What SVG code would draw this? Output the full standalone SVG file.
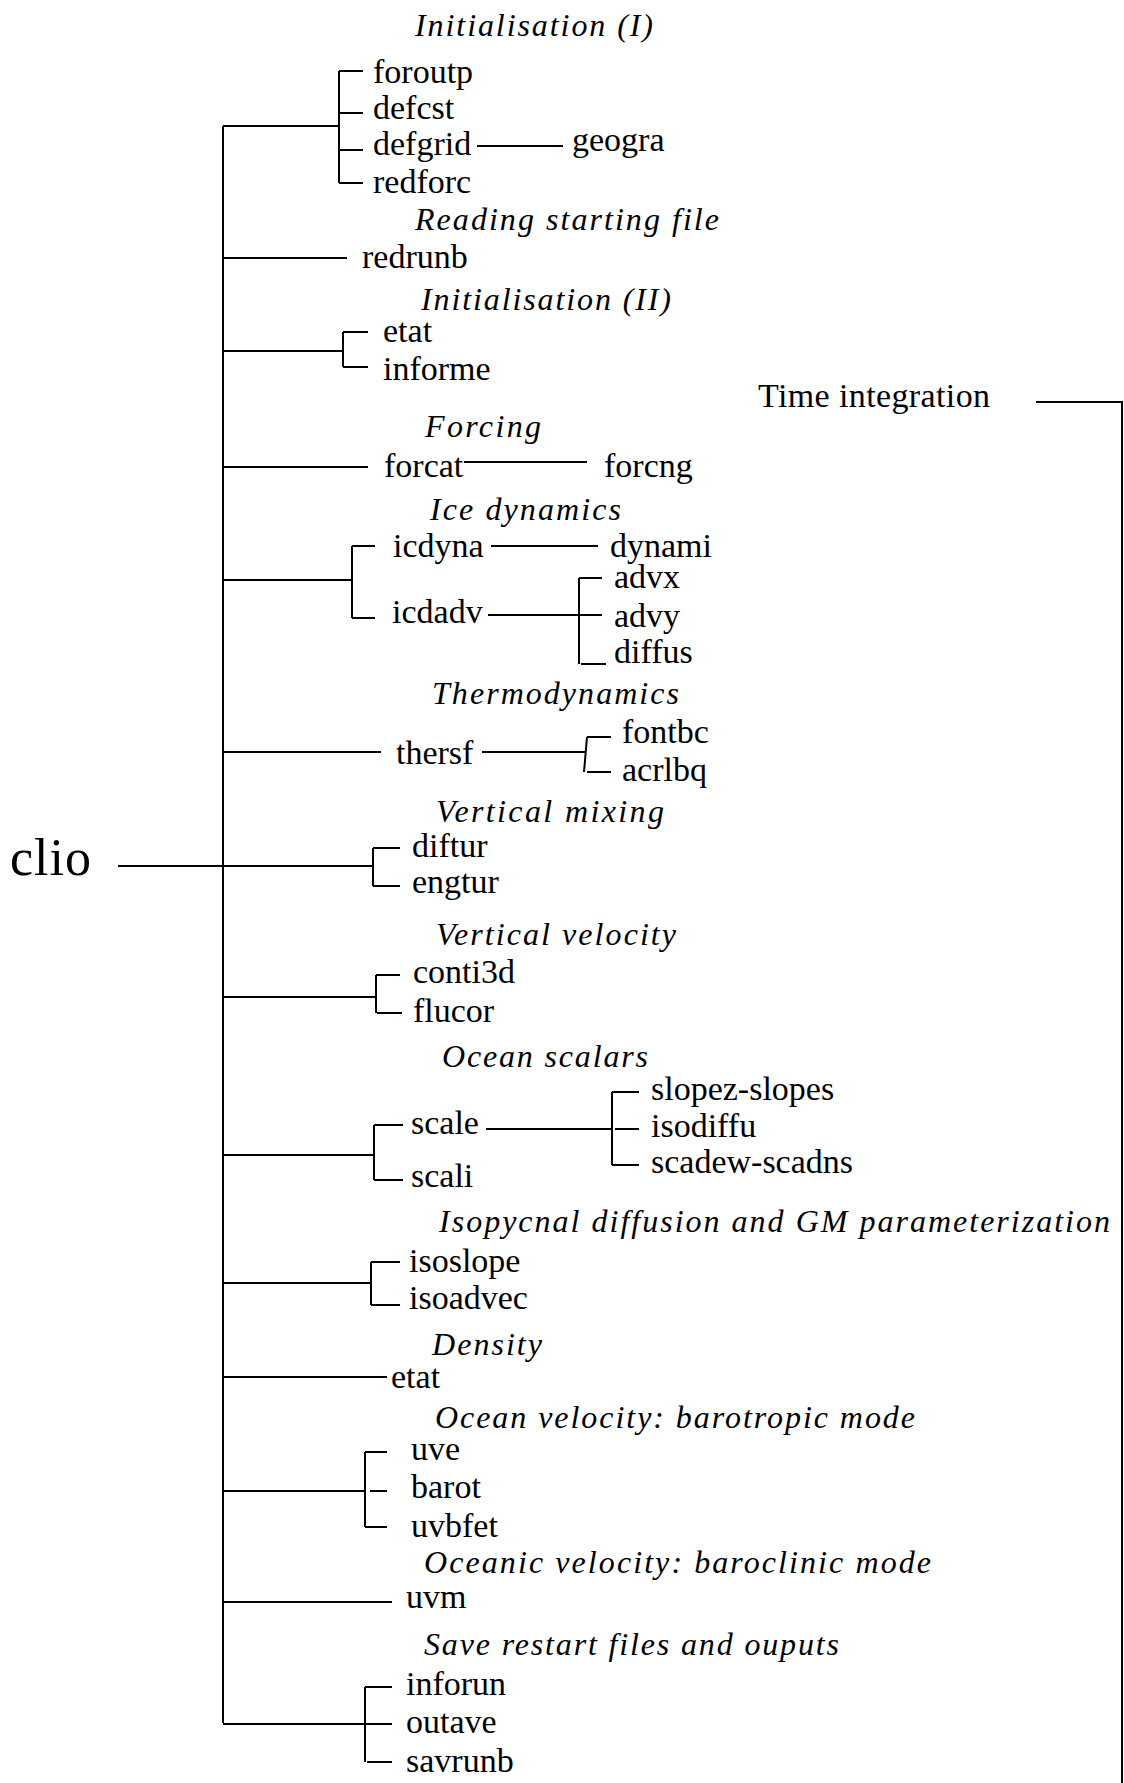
<svg xmlns="http://www.w3.org/2000/svg" width="1124" height="1783" viewBox="0 0 1124 1783">
<style>
text{font-family:"Liberation Serif","Times New Roman",serif;fill:#000}
.n{font-size:34px}
.t{font-size:32px;font-style:italic}
.root{font-size:52px}
#connectors line,#connectors polyline{stroke:#000;stroke-width:2;fill:none}
</style>
<rect width="1124" height="1783" fill="#fff"/>
<g id="connectors">
<line x1="223" y1="126" x2="223" y2="1723"/>
<line x1="118" y1="866" x2="373" y2="866"/>
<!-- Init I -->
<line x1="223" y1="126" x2="339" y2="126"/>
<line x1="339" y1="71" x2="339" y2="183"/>
<line x1="339" y1="71" x2="363" y2="71"/>
<line x1="339" y1="113" x2="363" y2="113"/>
<line x1="339" y1="150" x2="363" y2="150"/>
<line x1="339" y1="183" x2="363" y2="183"/>
<line x1="477" y1="146" x2="563" y2="146"/>
<!-- redrunb -->
<line x1="223" y1="258" x2="347" y2="258"/>
<!-- Init II -->
<line x1="223" y1="351" x2="343" y2="351"/>
<line x1="343" y1="332" x2="343" y2="367"/>
<line x1="343" y1="332" x2="368" y2="332"/>
<line x1="343" y1="367" x2="368" y2="367"/>
<!-- Forcing -->
<line x1="223" y1="467" x2="368" y2="467"/>
<line x1="464" y1="462" x2="587" y2="462"/>
<!-- Ice dynamics -->
<line x1="223" y1="580" x2="352" y2="580"/>
<line x1="352" y1="546" x2="352" y2="618"/>
<line x1="352" y1="546" x2="375" y2="546"/>
<line x1="352" y1="618" x2="375" y2="618"/>
<line x1="491" y1="546" x2="598" y2="546"/>
<line x1="488" y1="615" x2="602" y2="615"/>
<line x1="579" y1="578" x2="579" y2="664"/>
<line x1="579" y1="578" x2="602" y2="578"/>
<line x1="581" y1="664" x2="606" y2="664"/>
<!-- Thermodynamics -->
<line x1="223" y1="752" x2="381" y2="752"/>
<line x1="482" y1="752" x2="585" y2="752"/>
<line x1="587" y1="737" x2="584" y2="772"/>
<line x1="587" y1="737" x2="611" y2="737"/>
<line x1="587" y1="772" x2="611" y2="772"/>
<!-- Vertical mixing -->
<line x1="373" y1="848" x2="373" y2="886"/>
<line x1="373" y1="848" x2="400" y2="848"/>
<line x1="373" y1="886" x2="400" y2="886"/>
<!-- Vertical velocity -->
<line x1="223" y1="997" x2="376" y2="997"/>
<line x1="376" y1="975" x2="376" y2="1013"/>
<line x1="376" y1="975" x2="400" y2="975"/>
<line x1="377" y1="1013" x2="402" y2="1013"/>
<!-- Ocean scalars -->
<line x1="223" y1="1155" x2="374" y2="1155"/>
<line x1="374" y1="1125" x2="374" y2="1180"/>
<line x1="374" y1="1125" x2="403" y2="1125"/>
<line x1="374" y1="1180" x2="403" y2="1180"/>
<line x1="486" y1="1129" x2="612" y2="1129"/>
<line x1="612" y1="1092" x2="612" y2="1165"/>
<line x1="612" y1="1092" x2="639" y2="1092"/>
<line x1="615" y1="1129" x2="639" y2="1129"/>
<line x1="612" y1="1165" x2="639" y2="1165"/>
<!-- Isopycnal -->
<line x1="223" y1="1283" x2="371" y2="1283"/>
<line x1="371" y1="1262" x2="371" y2="1305"/>
<line x1="371" y1="1262" x2="400" y2="1262"/>
<line x1="371" y1="1305" x2="400" y2="1305"/>
<!-- Density -->
<line x1="223" y1="1377" x2="387" y2="1377"/>
<!-- Barotropic -->
<line x1="223" y1="1491" x2="365" y2="1491"/>
<line x1="365" y1="1452" x2="365" y2="1527"/>
<line x1="365" y1="1452" x2="387" y2="1452"/>
<line x1="370" y1="1491" x2="387" y2="1491"/>
<line x1="365" y1="1527" x2="387" y2="1527"/>
<!-- Baroclinic -->
<line x1="223" y1="1602" x2="392" y2="1602"/>
<!-- Save -->
<line x1="223" y1="1724" x2="392" y2="1724"/>
<line x1="365" y1="1687" x2="365" y2="1762"/>
<line x1="365" y1="1687" x2="392" y2="1687"/>
<line x1="367" y1="1762" x2="392" y2="1762"/>
<!-- Time integration -->
<polyline points="1036,402 1122,402 1122,1783"/>
</g>
<g id="titles">
<text class="t" x="415" y="36" textLength="238">Initialisation (I)</text>
<text class="t" x="415" y="230" textLength="304">Reading starting file</text>
<text class="t" x="421" y="310" textLength="250">Initialisation (II)</text>
<text class="t" x="425" y="437" textLength="116">Forcing</text>
<text class="t" x="430" y="520" textLength="191">Ice dynamics</text>
<text class="t" x="432" y="704" textLength="247">Thermodynamics</text>
<text class="t" x="436" y="822" textLength="228">Vertical mixing</text>
<text class="t" x="436" y="945" textLength="240">Vertical velocity</text>
<text class="t" x="442" y="1067" textLength="206">Ocean scalars</text>
<text class="t" x="439" y="1232" textLength="671">Isopycnal diffusion and GM parameterization</text>
<text class="t" x="432" y="1355" textLength="110">Density</text>
<text class="t" x="435" y="1428" textLength="480">Ocean velocity: barotropic mode</text>
<text class="t" x="424" y="1573" textLength="507">Oceanic velocity: baroclinic mode</text>
<text class="t" x="424" y="1655" textLength="415">Save restart files and ouputs</text>
</g>
<g id="node-clio"><text class="root" x="10" y="875" textLength="81">clio</text></g>
<g id="node-time"><text class="n" x="758" y="407" textLength="232">Time integration</text></g>
<g id="node-foroutp"><text class="n" x="373" y="83">foroutp</text></g>
<g id="node-defcst"><text class="n" x="373" y="119">defcst</text></g>
<g id="node-defgrid"><text class="n" x="373" y="155">defgrid</text></g>
<g id="node-geogra"><text class="n" x="572" y="151">geogra</text></g>
<g id="node-redforc"><text class="n" x="373" y="193">redforc</text></g>
<g id="node-redrunb"><text class="n" x="362" y="268">redrunb</text></g>
<g id="node-etat1"><text class="n" x="383" y="342">etat</text></g>
<g id="node-informe"><text class="n" x="383" y="380">informe</text></g>
<g id="node-forcat"><text class="n" x="384" y="477">forcat</text></g>
<g id="node-forcng"><text class="n" x="604" y="477">forcng</text></g>
<g id="node-icdyna"><text class="n" x="393" y="557">icdyna</text></g>
<g id="node-dynami"><text class="n" x="610" y="557">dynami</text></g>
<g id="node-icdadv"><text class="n" x="392" y="623">icdadv</text></g>
<g id="node-advx"><text class="n" x="614" y="588">advx</text></g>
<g id="node-advy"><text class="n" x="614" y="627">advy</text></g>
<g id="node-diffus"><text class="n" x="614" y="663">diffus</text></g>
<g id="node-thersf"><text class="n" x="396" y="764">thersf</text></g>
<g id="node-fontbc"><text class="n" x="622" y="743">fontbc</text></g>
<g id="node-acrlbq"><text class="n" x="622" y="781">acrlbq</text></g>
<g id="node-diftur"><text class="n" x="412" y="857">diftur</text></g>
<g id="node-engtur"><text class="n" x="412" y="893">engtur</text></g>
<g id="node-conti3d"><text class="n" x="413" y="983">conti3d</text></g>
<g id="node-flucor"><text class="n" x="413" y="1022">flucor</text></g>
<g id="node-scale"><text class="n" x="411" y="1134">scale</text></g>
<g id="node-scali"><text class="n" x="411" y="1187">scali</text></g>
<g id="node-slopez"><text class="n" x="651" y="1100">slopez-slopes</text></g>
<g id="node-isodiffu"><text class="n" x="651" y="1137">isodiffu</text></g>
<g id="node-scadew"><text class="n" x="651" y="1173">scadew-scadns</text></g>
<g id="node-isoslope"><text class="n" x="409" y="1272">isoslope</text></g>
<g id="node-isoadvec"><text class="n" x="409" y="1309">isoadvec</text></g>
<g id="node-etat2"><text class="n" x="391" y="1388">etat</text></g>
<g id="node-uve"><text class="n" x="411" y="1460">uve</text></g>
<g id="node-barot"><text class="n" x="411" y="1498">barot</text></g>
<g id="node-uvbfet"><text class="n" x="411" y="1537">uvbfet</text></g>
<g id="node-uvm"><text class="n" x="406" y="1608">uvm</text></g>
<g id="node-inforun"><text class="n" x="406" y="1695">inforun</text></g>
<g id="node-outave"><text class="n" x="406" y="1733">outave</text></g>
<g id="node-savrunb"><text class="n" x="406" y="1772">savrunb</text></g>
</svg>
